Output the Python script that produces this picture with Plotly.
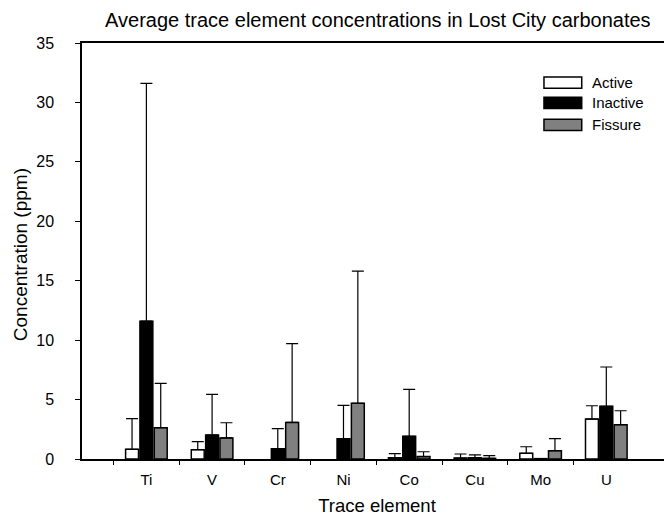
import plotly.graph_objects as go

elements = ["Ti", "V", "Cr", "Ni", "Co", "Cu", "Mo", "U"]
active = [0.82, 0.78, None, None, 0.10, 0.08, 0.48, 3.36]
active_top = [3.39, 1.46, None, None, 0.45, 0.42, 1.03, 4.48]
inactive = [11.6, 2.02, 0.87, 1.71, 1.91, 0.10, 0.03, 4.43]
inactive_top = [31.6, 5.44, 2.55, 4.51, 5.86, 0.34, None, 7.74]
fissure = [2.63, 1.77, 3.08, 4.68, 0.20, 0.05, 0.70, 2.88]
fissure_top = [6.37, 3.05, 9.7, 15.8, 0.61, 0.28, 1.71, 4.06]
y_ticks = [0, 5, 10, 15, 20, 25, 30, 35]

def plus_err(vals, tops):
    out = []
    for v, t in zip(vals, tops):
        if v is None or t is None:
            out.append(None)
        else:
            out.append(t - v)
    return out

FONT = "Liberation Sans, Arial, sans-serif"
series = [
    ("Active", active, active_top, "white"),
    ("Inactive", inactive, inactive_top, "black"),
    ("Fissure", fissure, fissure_top, "#808080"),
]

fig = go.Figure()
for name, vals, tops, col in series:
    fig.add_trace(go.Bar(
        name=name, x=elements, y=vals, showlegend=False,
        marker=dict(color=col, line=dict(color="black", width=1.5)),
        error_y=dict(type="data", symmetric=False, array=plus_err(vals, tops),
                     arrayminus=[0] * len(vals), color="black", thickness=1.2, width=6),
    ))

# helper trace on overlay axis for the category-boundary ticks
fig.add_trace(go.Scatter(x=[None], y=[None], xaxis="x2", showlegend=False, hoverinfo="skip"))

# custom legend (wide swatches)
leg_y = [0.905, 0.856, 0.803]
for (name, _, _, col), yc in zip(series, leg_y):
    fig.add_shape(type="rect", xref="paper", yref="paper",
                  x0=0.783, x1=0.847, y0=yc - 0.0135, y1=yc + 0.0135,
                  fillcolor=col, line=dict(color="black", width=1.5))
    fig.add_annotation(text=name, xref="paper", yref="paper", x=0.861, y=yc,
                       xanchor="left", yanchor="middle", showarrow=False,
                       font=dict(size=15, family=FONT, color="black"))

# y-axis title
fig.add_annotation(text="Concentration (ppm)", xref="paper", yref="paper",
                   x=-0.105, y=0.49, textangle=-90, xanchor="center", yanchor="middle",
                   showarrow=False, font=dict(size=19, family=FONT, color="black"))

fig.update_layout(
    width=664, height=508,
    margin=dict(l=74, r=0, t=35, b=57, autoexpand=False),
    paper_bgcolor="white", plot_bgcolor="white",
    font=dict(family=FONT, color="black", size=15),
    barmode="group", bargap=0.345, bargroupgap=0.1,
    title=dict(text="Average trace element concentrations in Lost City carbonates",
               x=0.557, xanchor="center", y=0.976, yanchor="middle",
               font=dict(size=20, family=FONT)),
    xaxis=dict(type="category", range=[-0.98, 8.0], showline=True, linecolor="black",
               linewidth=1.5, mirror=True, ticks="", showgrid=False, ticklabelstandoff=6,
               title=dict(text="Trace element", font=dict(size=18.5), standoff=17),
               tickfont=dict(size=15)),
    xaxis2=dict(overlaying="x", range=[-0.98, 8.0], side="bottom",
                tickvals=[-0.5, 0.5, 1.5, 2.5, 3.5, 4.5, 5.5, 6.5],
                ticks="outside", ticklen=5, tickwidth=1.2, tickcolor="black",
                showticklabels=False, showgrid=False, showline=False, zeroline=False),
    yaxis=dict(range=[0, 35], tickvals=y_ticks, ticks="outside", ticklen=5,
               tickwidth=1.2, tickcolor="black", showline=True, linecolor="black",
               linewidth=1.5, showgrid=False, zeroline=False, ticklabelstandoff=18,
               tickfont=dict(size=16)),
)

fig.write_html("out.html")
